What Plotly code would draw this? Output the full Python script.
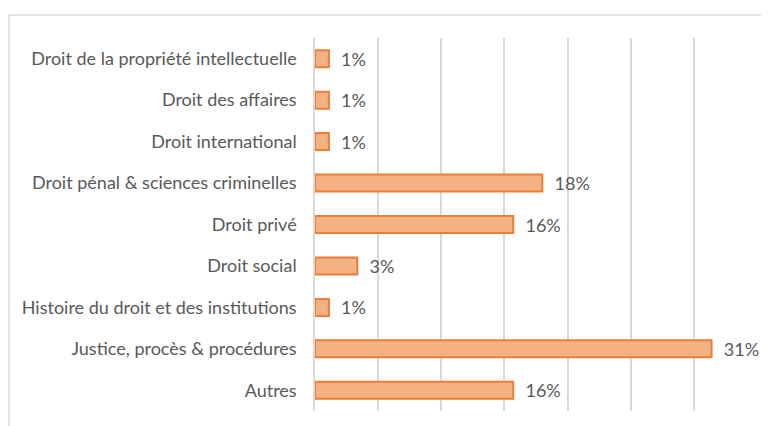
import plotly.graph_objects as go

categories = [
    "Droit de la propriété intellectuelle",
    "Droit des affaires",
    "Droit international",
    "Droit pénal & sciences criminelles",
    "Droit privé",
    "Droit social",
    "Histoire du droit et des institutions",
    "Justice, procès & procédures",
    "Autres",
]
values = [1.1, 1.1, 1.1, 18.0, 15.7, 3.35, 1.1, 31.4, 15.7]
labels = ["1%", "1%", "1%", "18%", "16%", "3%", "1%", "31%", "16%"]

# page body has an 8px margin; the figure is sized/margined to compensate
fig = go.Figure()
fig.add_trace(go.Bar(
    y=categories,
    x=values,
    orientation="h",
    marker=dict(color="#F4B183", line=dict(color="#ED7D31", width=2)),
    text=["\u00a0\u00a0" + t for t in labels],
    textposition="outside",
    constraintext="none",
    textfont=dict(family="Lato", size=18, color="#595959"),
    cliponaxis=False,
    hoverinfo="skip",
))

top_line = (410.7 - 14.7) / 373
left_line = (9 - 315) / 442

fig.update_layout(
    width=761, height=418,
    margin=dict(l=307, r=12, t=30, b=15),
    paper_bgcolor="white",
    plot_bgcolor="white",
    bargap=0.59,
    showlegend=False,
    font=dict(family="Lato", size=18, color="#595959"),
    xaxis=dict(
        range=[0, 35], dtick=5, showgrid=True, gridcolor="#D9D9D9", gridwidth=1.5,
        showticklabels=False, zeroline=False, showline=False, fixedrange=True,
    ),
    yaxis=dict(
        autorange="reversed", showgrid=False, showline=True, linecolor="#D9D9D9",
        linewidth=1.5, ticks="", ticklabelstandoff=13,
        tickfont=dict(family="Lato", size=18, color="#595959"),
    ),
    shapes=[
        dict(type="line", xref="paper", yref="paper",
             x0=left_line, x1=1.05, y0=top_line, y1=top_line,
             line=dict(color="#D9D9D9", width=1.5)),
        dict(type="line", xref="paper", yref="paper",
             x0=left_line, x1=left_line, y0=top_line, y1=-0.1,
             line=dict(color="#D9D9D9", width=1.5)),
    ],
)

fig.write_html("out.html")
